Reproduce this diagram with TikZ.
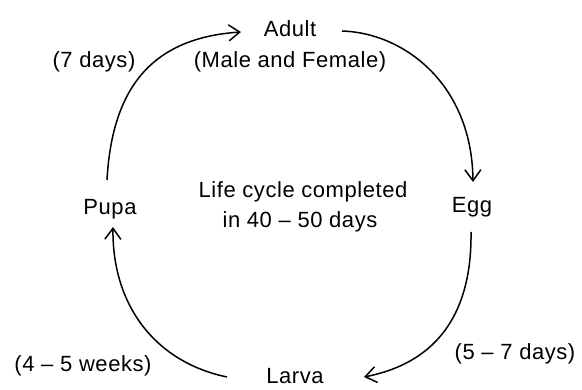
\documentclass[tikz,border=0pt]{standalone}
\usepackage{fontspec}
\setmainfont{Liberation Sans}[LetterSpace=2.5]
\usetikzlibrary{arrows.meta}
\begin{document}
\begin{tikzpicture}[x=1pt,y=-1pt,
  lbl/.style={font=\fontsize{22}{24}\selectfont, inner sep=0pt, anchor=base},
  cyc/.style={line width=1.5pt, -{Straight Barb[length=11pt,width=16pt,line width=1.5pt]}}]
\useasboundingbox (0,0) rectangle (582,390);
\node[lbl] (adult) at (290,37) {Adult};
\node[lbl] (mf) at (290,68) {(Male and Female)};
\node[lbl] (d7) at (94,68) {(7 days)};
\node[lbl] (pupa) at (110,215) {Pupa};
\node[lbl] (egg) at (472,213) {Egg};
\node[lbl] (lc1) at (303,198) {Life cycle completed};
\node[lbl] (lc2) at (300,228) {in 40 -- 50 days};
\node[lbl] (larva) at (295,384) {Larva};
\node[lbl] (w45) at (83,372) {(4 -- 5 weeks)};
\node[lbl] (d57) at (515,360) {(5 -- 7 days)};
\coordinate (pupaTop) at (107,180);
\coordinate (adultIn) at (241,32);
\coordinate (adultOut) at (342,31);
\coordinate (eggIn) at (473,182);
\coordinate (eggOut) at (471,232);
\coordinate (larvaIn) at (364,377);
\coordinate (larvaOut) at (227,377);
\coordinate (pupaIn) at (113,227);
\draw[cyc] (pupaTop) .. controls (112,90) and (150,38) .. (adultIn);
\draw[cyc] (adultOut) .. controls (405,33) and (472,85) .. (eggIn);
\draw[cyc] (eggOut) .. controls (472,310) and (440,362) .. (larvaIn);
\draw[cyc] (larvaOut) .. controls (155,362) and (112,305) .. (pupaIn);
\end{tikzpicture}
\end{document}
